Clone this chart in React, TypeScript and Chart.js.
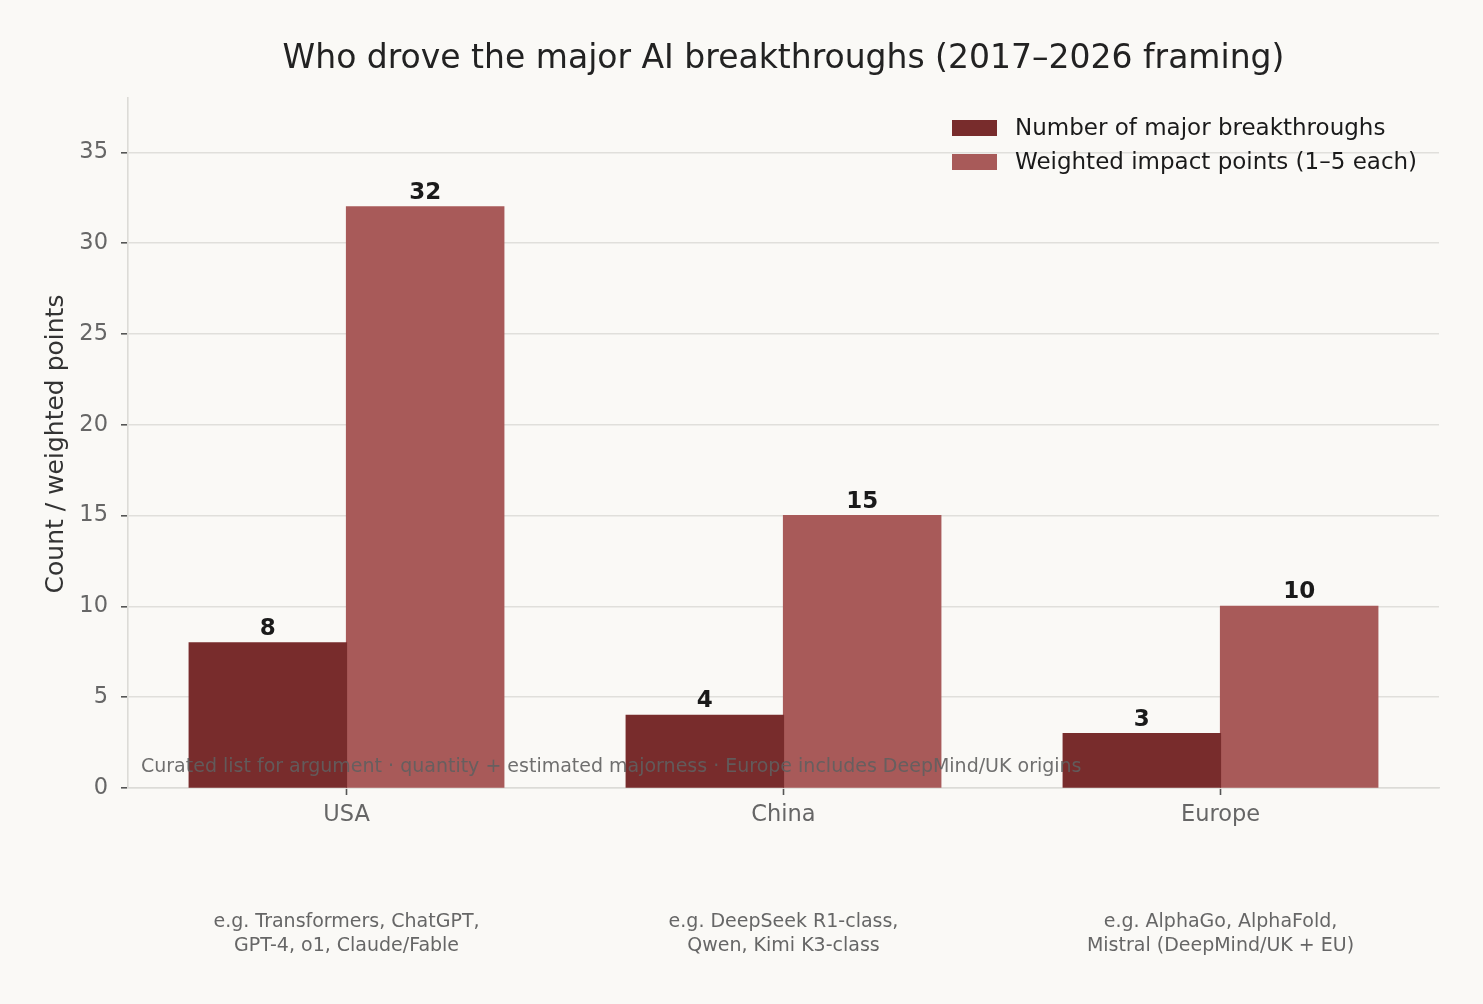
import { useEffect, useRef } from 'react';
import { Chart, registerables } from 'chart.js';

Chart.register(...registerables);

const chartTitle = 'Who drove the major AI breakthroughs (2017–2026 framing)';
const yAxisTitle = 'Count / weighted points';
const footnote = 'Curated list for argument · quantity + estimated majorness · Europe includes DeepMind/UK origins';
const categories = ['USA', 'China', 'Europe'];
const seriesLabels = ['Number of major breakthroughs', 'Weighted impact points (1–5 each)'];
const breakthroughCounts = [8, 4, 3];
const weightedPoints = [32, 15, 10];
const exampleLines = [
  ['e.g. Transformers, ChatGPT,', 'GPT-4, o1, Claude/Fable'],
  ['e.g. DeepSeek R1-class,', 'Qwen, Kimi K3-class'],
  ['e.g. AlphaGo, AlphaFold,', 'Mistral (DeepMind/UK + EU)'],
];
const yTickValues = [0, 5, 10, 15, 20, 25, 30, 35];
const yMax = 38;

const W = 1483;
const H = 1004;
const BG = '#faf9f6';
const DARK = '#782c2c';
const LIGHT = '#a85a59';
const FONT = '"DejaVu Sans", sans-serif';

const overlayPlugin = {
  id: 'overlay',
  beforeDraw(chart: any) {
    const ctx = chart.ctx;
    ctx.save();
    ctx.fillStyle = BG;
    ctx.fillRect(0, 0, chart.width, chart.height);
    ctx.restore();
  },
  afterDraw(chart: any) {
    const ctx = chart.ctx;
    const area = chart.chartArea;
    const xScale = chart.scales.x;
    ctx.save();
    // title
    ctx.fillStyle = '#222222';
    ctx.font = `33px ${FONT}`;
    ctx.textAlign = 'center';
    ctx.textBaseline = 'middle';
    ctx.fillText(chartTitle, (area.left + area.right) / 2, 59);

    // y axis title
    ctx.save();
    ctx.translate(56, (area.top + area.bottom) / 2 + 1);
    ctx.rotate(-Math.PI / 2);
    ctx.fillStyle = '#333333';
    ctx.font = `25px ${FONT}`;
    ctx.fillText(yAxisTitle, 0, 0);
    ctx.restore();

    // value labels
    ctx.font = `bold 23px ${FONT}`;
    ctx.fillStyle = '#1a1a1a';
    ctx.textBaseline = 'alphabetic';
    chart.data.datasets.forEach((ds: any, di: number) => {
      const meta = chart.getDatasetMeta(di);
      meta.data.forEach((bar: any, i: number) => {
        ctx.fillText(String(ds.data[i]), bar.x, bar.y - 8);
      });
    });

    // footnote
    ctx.font = `19px ${FONT}`;
    ctx.fillStyle = 'rgba(95,95,95,0.9)';
    ctx.textAlign = 'left';
    ctx.textBaseline = 'bottom';
    ctx.fillText(footnote, area.left + 13, area.bottom - 11);

    // example lines under categories
    ctx.font = `19px ${FONT}`;
    ctx.fillStyle = '#666666';
    ctx.textAlign = 'center';
    ctx.textBaseline = 'middle';
    categories.forEach((_, i) => {
      const x = xScale.getPixelForValue(i);
      exampleLines[i].forEach((line, li) => {
        ctx.fillText(line, x, 922 + li * 24);
      });
    });

    // legend
    const colors = [DARK, LIGHT];
    ctx.textAlign = 'left';
    ctx.font = `23px ${FONT}`;
    seriesLabels.forEach((label, i) => {
      const cy = 128 + i * 34;
      ctx.fillStyle = colors[i];
      ctx.fillRect(952, cy - 8, 45, 16);
      ctx.fillStyle = '#1a1a1a';
      ctx.fillText(label, 1015, cy + 1);
    });
    ctx.restore();
  },
};

export default function App() {
  const ref = useRef<HTMLCanvasElement | null>(null);
  useEffect(() => {
    document.body.style.margin = '0';
    document.body.style.background = BG;
    const canvas = ref.current!;
    const chart = new Chart(canvas, {
      type: 'bar',
      data: {
        labels: categories,
        datasets: [
          { label: seriesLabels[0], data: breakthroughCounts, backgroundColor: DARK, borderWidth: 0, inflateAmount: 0.6, categoryPercentage: 0.72, barPercentage: 1.0 },
          { label: seriesLabels[1], data: weightedPoints, backgroundColor: LIGHT, borderWidth: 0, inflateAmount: 0.6, categoryPercentage: 0.72, barPercentage: 1.0 },
        ],
      },
      options: {
        responsive: false,
        animation: false,
        devicePixelRatio: 1,
        layout: { padding: { left: 0, right: 44, top: 98, bottom: 0 } },
        plugins: {
          legend: { display: false },
          title: { display: false },
          tooltip: { enabled: false },
        },
        scales: {
          x: {
            grid: { display: true, drawOnChartArea: false, drawTicks: true, tickLength: 7, tickColor: '#555555', tickWidth: 1.6, offset: false },
            border: { display: true, color: '#dcdbd7', width: 1.6 },
            ticks: { color: '#666666', font: { family: FONT, size: 22.5 }, padding: 7 },
            afterFit: (scale: any) => { scale.height = 216; },
          },
          y: {
            min: 0,
            max: yMax,
            grid: { color: '#e0dfdb', lineWidth: 1.6, drawTicks: true, tickLength: 7, tickColor: '#555555', tickWidth: 1.6 },
            border: { display: true, color: '#dcdbd7', width: 1.6 },
            ticks: { stepSize: 5, color: '#666666', font: { family: FONT, size: 22.5 }, padding: 13 },
            afterBuildTicks: (scale: any) => {
              scale.ticks = yTickValues.map((v) => ({ value: v }));
            },
            afterFit: (scale: any) => { scale.width = 128; },
          },
        },
      },
      plugins: [overlayPlugin],
    });
    return () => chart.destroy();
  }, []);
  return (
    <div style={{ position: 'fixed', left: 0, top: 0, width: W, height: H, background: BG }}>
      <canvas ref={ref} width={W} height={H} style={{ width: W, height: H, display: 'block' }} />
    </div>
  );
}
